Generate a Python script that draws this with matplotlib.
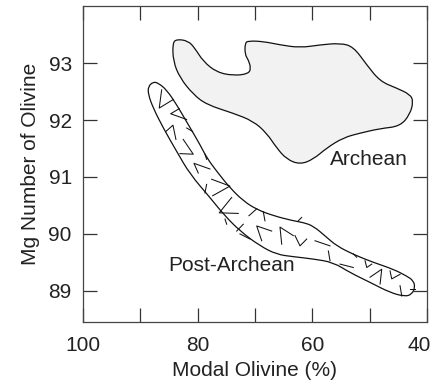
import numpy as np
import matplotlib
matplotlib.use('agg')
import matplotlib.pyplot as plt
from matplotlib.patches import PathPatch
from matplotlib.path import Path
from matplotlib.transforms import ScaledTranslation

plt.rcParams['font.family'] = ['Liberation Sans', 'DejaVu Sans']

## outline of the Archean field (modal olivine %, Mg number)
archean_x = [84.36, 83.66, 81.63, 80.47, 79.02, 76.68, 73.79, 71.17, 70.70, 71.17,
             71.74, 71.74, 71.17, 68.55, 65.64, 62.15, 58.66, 55.17, 52.86, 50.52,
             48.20, 45.29, 42.97, 42.39, 42.97, 44.71, 48.20, 51.69, 54.60, 57.49,
             59.83, 62.15, 64.47, 66.22, 67.96, 70.30, 73.79, 78.42, 80.76, 83.08,
             84.25]
archean_y = [93.35, 93.42, 93.39, 93.26, 93.03, 92.84, 92.78, 92.81, 92.91, 93.06,
             93.15, 93.35, 93.39, 93.38, 93.32, 93.27, 93.32, 93.35, 93.29, 92.97,
             92.68, 92.56, 92.45, 92.33, 92.10, 91.89, 91.85, 91.77, 91.69, 91.51,
             91.31, 91.22, 91.31, 91.51, 91.77, 91.98, 92.12, 92.27, 92.45, 92.74,
             93.03]

## outline of the Post-Archean field
post_x = [87.74, 86.87, 85.40, 83.66, 81.63, 79.59, 78.42, 76.68, 74.36, 72.04,
          69.71, 66.81, 63.32, 61.58, 59.83, 57.50, 55.75, 52.86, 49.37, 45.88,
          43.54, 42.39, 42.09, 42.67, 43.84, 46.46, 49.95, 53.43, 56.34, 59.83,
          63.32, 66.22, 69.13, 72.62, 75.53, 77.85, 81.34, 83.66, 85.99, 87.74,
          88.61, 88.61]
post_y = [92.67, 92.65, 92.53, 92.27, 91.92, 91.57, 91.34, 91.10, 90.81, 90.58,
          90.43, 90.32, 90.23, 90.20, 90.14, 89.94, 89.79, 89.64, 89.50, 89.38,
          89.26, 89.18, 89.06, 88.94, 88.90, 88.97, 89.15, 89.32, 89.50, 89.56,
          89.60, 89.64, 89.79, 90.05, 90.35, 90.64, 91.05, 91.45, 91.86, 92.21,
          92.45, 92.59]

## short dashes inside the Post-Archean field
dashes = [
    [(86.27, 92.53), (86.69, 92.21), (84.25, 92.36)],
    [(83.20, 92.20), (84.70, 92.11), (81.91, 92.01)],
    [(85.52, 91.80), (84.30, 91.91), (83.78, 91.66)],
    [(81.91, 91.86), (80.87, 91.80)],
    [(82.51, 91.66), (80.76, 91.40), (83.08, 91.41)],
    [(78.72, 91.40), (78.43, 91.31)],
    [(77.85, 91.14), (80.64, 91.24), (79.89, 91.07)],
    [(77.55, 90.96), (74.36, 90.84), (77.38, 90.67)],
    [(78.43, 90.87), (78.72, 90.72)],
    [(74.06, 90.64), (76.23, 90.37), (72.91, 90.36)],
    [(75.23, 90.26), (74.93, 90.17)],
    [(69.70, 90.44), (71.05, 90.32)],
    [(72.04, 90.17), (73.19, 90.05)],
    [(67.09, 90.05), (69.70, 90.14), (68.83, 89.88)],
    [(72.62, 90.00), (70.87, 89.91)],
    [(68.55, 90.39), (68.26, 90.23)],
    [(63.32, 89.97), (65.64, 90.12), (65.34, 89.82)],
    [(63.02, 89.97), (62.15, 89.79), (60.98, 89.91)],
    [(62.45, 90.23), (61.86, 90.29)],
    [(59.53, 89.88), (56.92, 89.79)],
    [(57.21, 89.70), (56.92, 89.53)],
    [(55.17, 89.47), (52.85, 89.41)],
    [(50.81, 89.53), (50.51, 89.41), (49.64, 89.47)],
    [(49.94, 89.24), (47.90, 89.38), (48.19, 89.12)],
    [(46.45, 89.35), (46.16, 89.21), (44.71, 89.29)],
    [(44.71, 89.09), (44.41, 88.91)],
    [(42.96, 89.03), (42.09, 89.03)],
    [(52.85, 89.65), (52.27, 89.59)],
]

xticks = [100, 80, 60, 40]
xminor = [90, 70, 50]
yticks = [89, 90, 91, 92, 93]


def smooth_outline(xs, ys):
    # closed outline drawn with quadratic curves, the outline points as control points
    p = np.column_stack([xs, ys])
    mids = (p + np.roll(p, -1, axis=0)) / 2
    verts = [mids[-1]]
    codes = [Path.MOVETO]
    for i in range(len(p)):
        verts += [p[i], mids[i]]
        codes += [Path.CURVE3, Path.CURVE3]
    return Path(verts, codes)


fig = plt.figure(figsize=(4.34, 3.84), dpi=100)
ax = fig.add_axes([0.191, 0.161, 0.793, 0.823])

ax.add_patch(PathPatch(smooth_outline(archean_x, archean_y),
                       facecolor='#f2f2f2', edgecolor='#111111', lw=0.9))
ax.add_patch(PathPatch(smooth_outline(post_x, post_y),
                       facecolor='white', edgecolor='#111111', lw=0.9))
for d in dashes:
    d = np.array(d)
    ax.plot(d[:, 0], d[:, 1], color='#111111', lw=0.75)

ax.text(56.9, 91.31, 'Archean', fontsize=15, color='#222222', va='center')
ax.text(85.12, 89.44, 'Post-Archean', fontsize=15, color='#222222', va='center')

ax.set_xlim(100, 40)
ax.set_ylim(88.45, 94.0)
ax.set_xticks(xticks)
ax.set_xticks(xminor, minor=True)
ax.set_yticks(yticks)
ax.tick_params(which='both', direction='in', length=10, width=0.9, color='#333333',
               top=True, right=True, labelsize=15, labelcolor='#222222')
ax.tick_params(axis='x', which='both', pad=10)
ax.tick_params(axis='y', pad=8)
for s in ax.spines.values():
    s.set_color('#444444')
    s.set_linewidth(0.9)

# last x label pulled inside the figure edge
last = ax.get_xticklabels()[-1]
last.set_horizontalalignment('right')
last.set_transform(last.get_transform() + ScaledTranslation(3 / 72, 0, fig.dpi_scale_trans))

ax.set_xlabel('Modal Olivine (%)', fontsize=15, color='#222222', labelpad=4)
ax.set_ylabel('Mg Number of Olivine', fontsize=15, color='#222222', labelpad=6)

plt.savefig('out.png', dpi=100)
